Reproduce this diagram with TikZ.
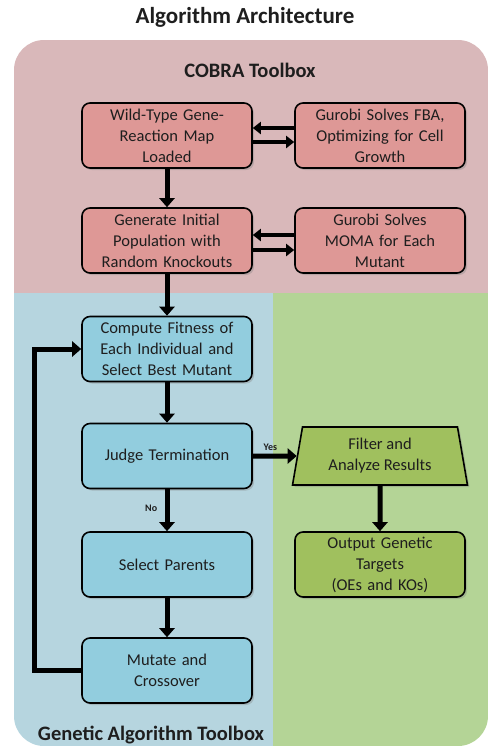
\documentclass[tikz,border=0pt]{standalone}
\usepackage{fontspec}
\setmainfont{Carlito}
\usetikzlibrary{shapes.geometric,arrows.meta,shadows}

\definecolor{cobrabg}{RGB}{217,184,186}
\definecolor{gabg}{RGB}{182,213,223}
\definecolor{outbg}{RGB}{180,212,150}
\definecolor{cobrabox}{RGB}{222,152,150}
\definecolor{gabox}{RGB}{146,205,222}
\definecolor{outbox}{RGB}{160,192,94}
\definecolor{ink}{RGB}{30,30,30}

\begin{document}
\begin{tikzpicture}[x=1pt, y=-1pt, font=\fontsize{16.5}{21}\selectfont, text=ink,
block/.style={rectangle, rounded corners=8pt, draw, line width=1.6pt, minimum width=170pt, minimum height=65pt,
      text width=166pt, align=center, inner sep=2pt,
      drop shadow={opacity=0.35, shadow xshift=2pt, shadow yshift=-2pt}},
manual/.style={trapezium, trapezium left angle=80, trapezium right angle=80, trapezium stretches=true,
      draw, line width=1.6pt, minimum width=175pt, minimum height=58pt, align=center, inner sep=2pt,
      drop shadow={opacity=0.35, shadow xshift=2pt, shadow yshift=-2pt}},
heading/.style={font=\fontsize{20.5}{24}\selectfont\bfseries},
small/.style={font=\fontsize{10}{12}\selectfont\bfseries},
flow/.style={line width=5pt, -{Triangle[length=9pt, width=15pt]}},
pair/.style={line width=4pt, -{Triangle[length=8pt, width=12pt]}},]
 \useasboundingbox (0,0) rectangle (490,748);
 \begin{scope}
  \clip[rounded corners=30pt] (14,40) rectangle (488,746);
  \fill[cobrabg] (14,40) rectangle (488,293);
  \fill[gabg] (14,293) rectangle (273,746);
  \fill[outbg] (273,293) rectangle (488,746);
 \end{scope}

 \node[heading, font=\fontsize{23}{26}\selectfont\bfseries] (title) at (245,17) {Algorithm Architecture};
 \node[heading] (cobra) at (250,70) {COBRA Toolbox};
 \node[heading] (gatool) at (151,735) {Genetic Algorithm Toolbox};

 \node[block, fill=cobrabox] (wtmap) at (167,135.5) {Wild-Type Gene-\\Reaction Map\\Loaded};
 \node[block, fill=cobrabox, right of=wtmap, node distance=213pt] (fba) {Gurobi Solves FBA,\\Optimizing for Cell\\Growth};
 \node[block, fill=cobrabox, below of=wtmap, node distance=105pt] (initpop) {Generate Initial\\Population with\\Random Knockouts};
 \node[block, fill=cobrabox, right of=initpop, node distance=213pt] (moma) {Gurobi Solves\\MOMA for Each\\Mutant};
 \node[block, fill=gabox, below of=initpop, node distance=108.5pt] (fitness) {Compute Fitness of\\Each Individual and\\Select Best Mutant};
 \node[block, fill=gabox, below of=fitness, node distance=107pt] (judge) {Judge Termination};
 \node[manual, fill=outbox, right of=judge, node distance=213pt] (filter) {Filter and\\Analyze Results};
 \node[block, fill=gabox, below of=judge, node distance=108.5pt] (parents) {Select Parents};
 \node[block, fill=gabox, below of=parents, node distance=106pt] (mutate) {Mutate and\\Crossover};
 \node[block, fill=outbox, right of=parents, node distance=213pt] (targets) {Output Genetic\\Targets\\(OEs and KOs)};

 \draw[pair] ([yshift=7.5pt]fba.west) -- ([yshift=7.5pt]wtmap.east);
 \draw[pair] ([yshift=-6.5pt]wtmap.east) -- ([yshift=-6.5pt]fba.west);
 \draw[pair] ([yshift=5.5pt]moma.west) -- ([yshift=5.5pt]initpop.east);
 \draw[pair] ([yshift=-9.5pt]initpop.east) -- ([yshift=-9.5pt]moma.west);
 \draw[flow] (wtmap) -- (initpop);
 \draw[flow] (initpop) -- (fitness);
 \draw[flow] (fitness) -- (judge);
 \draw[flow] (judge) -- node[small, above, pos=0.4] {Yes} (filter);
 \draw[flow] (judge) -- node[small, left, pos=0.45, xshift=-4pt] {No} (parents);
 \draw[flow] (parents) -- (mutate);
 \draw[flow] (filter) -- (targets);
 \draw[flow, line join=miter] (mutate.west) -- ++(-47,0) |- (fitness.west);
\end{tikzpicture}
\end{document}
